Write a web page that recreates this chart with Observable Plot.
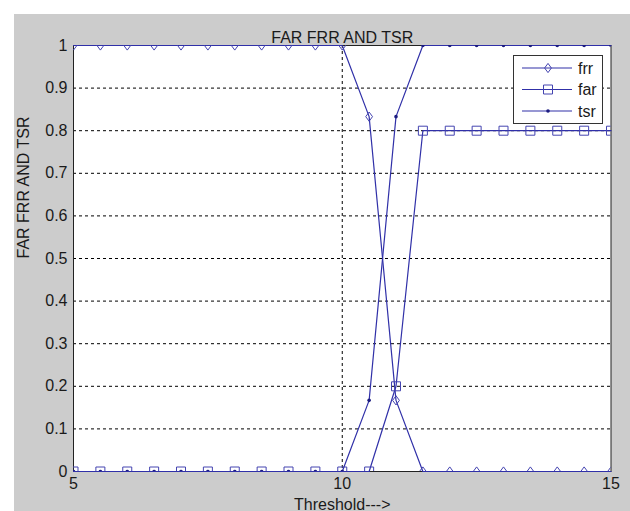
<!DOCTYPE html>
<html>
<head>
<meta charset="utf-8">
<script src="https://cdn.jsdelivr.net/npm/d3@7"></script>
<script src="https://cdn.jsdelivr.net/npm/@observablehq/plot@0.6"></script>
<style>
  html, body { margin: 0; padding: 0; background: #ffffff; overflow: hidden; }
  #wrap { position: relative; width: 630px; height: 511px; overflow: hidden; }
  #chart { position: absolute; left: 14px; top: 14px; }
  #legend { position: absolute; left: 513px; top: 55px; }
</style>
</head>
<body>
<div id="wrap"><div id="chart"></div><div id="legend"></div></div>
<script>
// ---- data ----
const thresholds = [5, 5.5, 6, 6.5, 7, 7.5, 8, 8.5, 9, 9.5, 10, 10.5, 11, 11.5, 12, 12.5, 13, 13.5, 14, 14.5, 15];
const frr = [1, 1, 1, 1, 1, 1, 1, 1, 1, 1, 1, 0.833, 0.167, 0, 0, 0, 0, 0, 0, 0, 0];
const far = [0, 0, 0, 0, 0, 0, 0, 0, 0, 0, 0, 0, 0.2, 0.8, 0.8, 0.8, 0.8, 0.8, 0.8, 0.8, 0.8];
const tsr = [0, 0, 0, 0, 0, 0, 0, 0, 0, 0, 0, 0.167, 0.833, 1, 1, 1, 1, 1, 1, 1, 1];
const seriesNames = ["frr", "far", "tsr"];
const xTicks = [5, 10, 15];
const yTicks = [0, 0.1, 0.2, 0.3, 0.4, 0.5, 0.6, 0.7, 0.8, 0.9, 1];
const yGrid = [0.1, 0.2, 0.3, 0.4, 0.5, 0.6, 0.7, 0.8, 0.9];
const xGrid = [10];
const titleText = "FAR FRR AND TSR";
const xLabel = "Threshold--->";
const yLabel = "FAR FRR AND TSR";

// ---- styles ----
const lineColor = "#3030a8";
const markColor = "#4444b0";
const dotColor = "#1c1c80";
const font = "'Liberation Sans', Arial, sans-serif";

// custom MATLAB-like markers
const tallDiamond = {
  draw(ctx, size) {
    const r = Math.sqrt(size / Math.PI);
    ctx.moveTo(0, -r * 1.15);
    ctx.lineTo(r * 0.85, 0);
    ctx.lineTo(0, r * 1.15);
    ctx.lineTo(-r * 0.85, 0);
    ctx.closePath();
  }
};
const boxSquare = {
  draw(ctx, size) {
    const r = Math.sqrt(size / Math.PI);
    ctx.moveTo(-r, -r);
    ctx.lineTo(r, -r);
    ctx.lineTo(r, r);
    ctx.lineTo(-r, r);
    ctx.closePath();
  }
};

const table = (vals, s) => thresholds.map((t, i) => ({t, v: vals[i], s}));
const dFrr = table(frr, "frr");
const dFar = table(far, "far");
const dTsr = table(tsr, "tsr");

const chart = Plot.plot({
  width: 616,
  height: 497,
  marginLeft: 59,
  marginTop: 31,
  marginRight: 19.5,
  marginBottom: 40,
  style: {background: "#cccccc", fontFamily: font, fontSize: "16px", color: "#1a1a1a", overflow: "visible"},
  x: {domain: [5, 15]},
  y: {domain: [0, 1]},
  marks: [
    Plot.frame({fill: "#ffffff", stroke: null}),
    Plot.ruleY(yGrid, {stroke: "#000", strokeWidth: 1, strokeDasharray: "3,3"}),
    Plot.ruleX(xGrid, {stroke: "#000", strokeWidth: 1, strokeDasharray: "3,3"}),
    Plot.frame({stroke: "#222", strokeWidth: 1}),
    Plot.axisY(yTicks, {tickSize: 0, tickPadding: 6, label: null, tickFormat: d => String(d), fill: "#1a1a1a", fontSize: 16}),
    Plot.axisX(xTicks, {tickSize: 0, tickPadding: 6, label: null, tickFormat: d => String(d), fill: "#1a1a1a", fontSize: 16}),
    Plot.line(dFrr, {x: "t", y: "v", stroke: lineColor, strokeWidth: 1.2}),
    Plot.dot(dFrr, {x: "t", y: "v", symbol: tallDiamond, r: 4, stroke: markColor, strokeWidth: 1, fill: "none", clip: true}),
    Plot.line(dFar, {x: "t", y: "v", stroke: lineColor, strokeWidth: 1.2}),
    Plot.dot(dFar, {x: "t", y: "v", symbol: boxSquare, r: 4.5, stroke: markColor, strokeWidth: 1, fill: "none", clip: true}),
    Plot.line(dTsr, {x: "t", y: "v", stroke: lineColor, strokeWidth: 1.2}),
    Plot.dot(dTsr, {x: "t", y: "v", r: 1.8, fill: dotColor, stroke: null, clip: true}),
    Plot.text([titleText], {frameAnchor: "top", lineAnchor: "bottom", dy: -3, fontSize: 16, fill: "#1a1a1a"}),
    Plot.text([xLabel], {frameAnchor: "bottom", lineAnchor: "bottom", dy: 38, fontSize: 16, fill: "#1a1a1a"}),
    Plot.text([yLabel], {frameAnchor: "left", lineAnchor: "bottom", rotate: -90, dx: -45, fontSize: 16, fill: "#1a1a1a"})
  ]
});
document.getElementById("chart").appendChild(chart);

// ---- legend ----
const symbols = {frr: tallDiamond, far: boxSquare, tsr: d3.symbolCircle};
const lw = 90, lh = 69;
const leg = d3.select("#legend").append("svg")
  .attr("width", lw).attr("height", lh)
  .style("font-family", font).style("font-size", "16px");
leg.append("rect").attr("x", 0.5).attr("y", 0.5).attr("width", lw - 1).attr("height", lh - 1)
  .attr("fill", "#ffffff").attr("stroke", "#333");
const rowY = d3.scalePoint().domain(seriesNames).range([13, 56]);
seriesNames.forEach(s => {
  const y = rowY(s);
  leg.append("line").attr("x1", 9).attr("x2", 59).attr("y1", y).attr("y2", y)
    .attr("stroke", lineColor).attr("stroke-width", 1.2);
  const sym = d3.symbol().type(symbols[s]).size(s === "tsr" ? Math.PI * 1.8 * 1.8 : Math.PI * (s === "far" ? 4.5 * 4.5 : 16));
  leg.append("path").attr("d", sym()).attr("transform", `translate(35,${y})`)
    .attr("fill", s === "tsr" ? dotColor : "none")
    .attr("stroke", s === "tsr" ? "none" : markColor);
  leg.append("text").attr("x", 65).attr("y", y).attr("dy", "0.35em").attr("fill", "#1a1a1a").text(s);
});
</script>
</body>
</html>
